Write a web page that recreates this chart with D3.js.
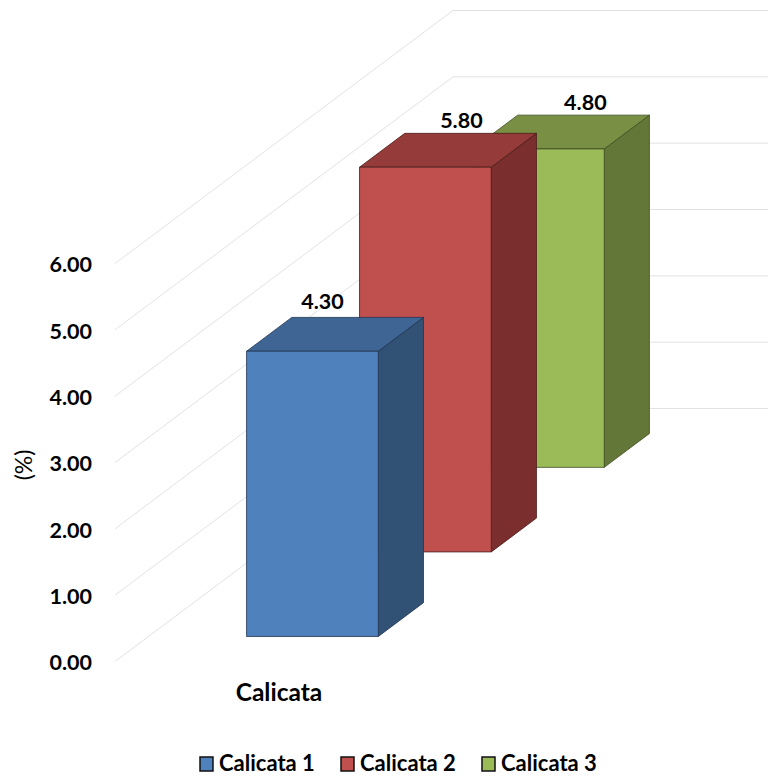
<!DOCTYPE html>
<html>
<head>
<meta charset="utf-8">
<script src="https://cdnjs.cloudflare.com/ajax/libs/d3/7.8.5/d3.min.js"></script>
<style>
html, body { margin: 0; padding: 0; background: #fff; }
svg { display: block; }
text { font-family: Lato, "Open Sans", sans-serif; fill: #000; }
</style>
</head>
<body>
<svg id="chart" width="768" height="777"></svg>
<script>
// Chart data
const categories = ["Calicata"];
const seriesNames = ["Calicata 1", "Calicata 2", "Calicata 3"];
const seriesValues = [4.30, 5.80, 4.80];
const tickValues = [0, 1, 2, 3, 4, 5, 6];
const axisTitle = "(%)";

// Face colours for each column: front, top, side, edge
const faces = [
  { front: "#4f81bd", top: "#3e6593", side: "#315275", edge: "#1f3550" },
  { front: "#c0504d", top: "#953b3a", side: "#7a2f2e", edge: "#4a1c1b" },
  { front: "#9bbb59", top: "#788f44", side: "#637738", edge: "#3c4a20" }
];

const svg = d3.select("#chart");

// Oblique projection: a point on the floor at depth 0..1 shifts up and to the right
const depthDX = 338, depthDY = -253;
const xScale = d3.scaleBand().domain(categories).range([115, 443]).paddingInner(0).paddingOuter(0.745);
const yScale = d3.scaleLinear().domain([0, 6]).range([661.5, 263.5]);
const zScale = d3.scaleBand().domain(seriesNames).range([0, 1]).paddingInner(0.6).paddingOuter(0.296);
const px = (x, z) => x + z * depthDX;
const py = (v, z) => yScale(v) + z * depthDY;

// Gridlines run back along the side wall, then across the back wall
const wallRight = 768;
svg.append("g").selectAll("polyline").data(tickValues).join("polyline")
  .attr("fill", "none").attr("stroke", "#e2e2e2").attr("stroke-width", 1)
  .attr("points", d => {
    const x0 = xScale.range()[0];
    return [[x0, yScale(d)], [px(x0, 1), py(d, 1)], [wallRight, py(d, 1)]].join(" ");
  });

// Value axis labels
const axis = d3.axisLeft(yScale).tickValues(tickValues).tickSize(0).tickPadding(0).tickFormat(d3.format(".2f"));
const axisG = svg.append("g").attr("transform", "translate(92,1.5)").call(axis);
axisG.select(".domain").remove();
axisG.selectAll("text").style("font-family", "Lato, sans-serif").style("font-size", "21.5px").style("font-weight", 700).attr("fill", "#000");

svg.append("text")
  .attr("transform", "translate(32,465) rotate(-90)")
  .attr("text-anchor", "middle").style("font-size", "23px").text(axisTitle);

// Columns, painted from back to front
const labelShift = [[10, -42], [36, -39], [47, -39]];
const order = d3.range(seriesNames.length).reverse();
const cat = categories[0];
order.forEach(i => {
  const name = seriesNames[i], v = seriesValues[i], c = faces[i];
  const x0 = xScale(cat), x1 = x0 + xScale.bandwidth();
  const z0 = zScale(name), z1 = z0 + zScale.bandwidth();
  const g = svg.append("g").attr("stroke", c.edge).attr("stroke-width", 0.8).attr("stroke-linejoin", "round");
  const poly = (pts, fill) => g.append("polygon").attr("fill", fill)
    .attr("points", pts.map(p => [px(p[0], p[2]), py(p[1], p[2])].join(",")).join(" "));
  poly([[x1, 0, z0], [x1, 0, z1], [x1, v, z1], [x1, v, z0]], c.side);
  poly([[x0, v, z0], [x1, v, z0], [x1, v, z1], [x0, v, z1]], c.top);
  poly([[x0, 0, z0], [x1, 0, z0], [x1, v, z0], [x0, v, z0]], c.front);
});
order.forEach(i => {
  const name = seriesNames[i], v = seriesValues[i];
  const z0 = zScale(name);
  svg.append("text")
    .attr("x", px(xScale(cat) + xScale.bandwidth() / 2, z0) + labelShift[i][0])
    .attr("y", py(v, z0) + labelShift[i][1])
    .attr("text-anchor", "middle").style("font-size", "21.5px").style("font-weight", 700)
    .text(v.toFixed(2));
});

// Category label
svg.append("text")
  .attr("x", 279).attr("y", 701).attr("text-anchor", "middle")
  .style("font-size", "24.5px").style("font-weight", 700).text(cat);

// Legend
const legendX = [200, 341, 482];
const legend = svg.append("g").selectAll("g").data(seriesNames).join("g")
  .attr("transform", (d, i) => `translate(${legendX[i]},757)`);
legend.append("rect").attr("width", 13).attr("height", 14)
  .attr("fill", (d, i) => faces[i].front).attr("stroke", "#111").attr("stroke-width", 1.5);
legend.append("text").attr("x", 19).attr("y", 14)
  .style("font-size", "22px").style("font-weight", 700).text(d => d);
</script>
</body>
</html>
